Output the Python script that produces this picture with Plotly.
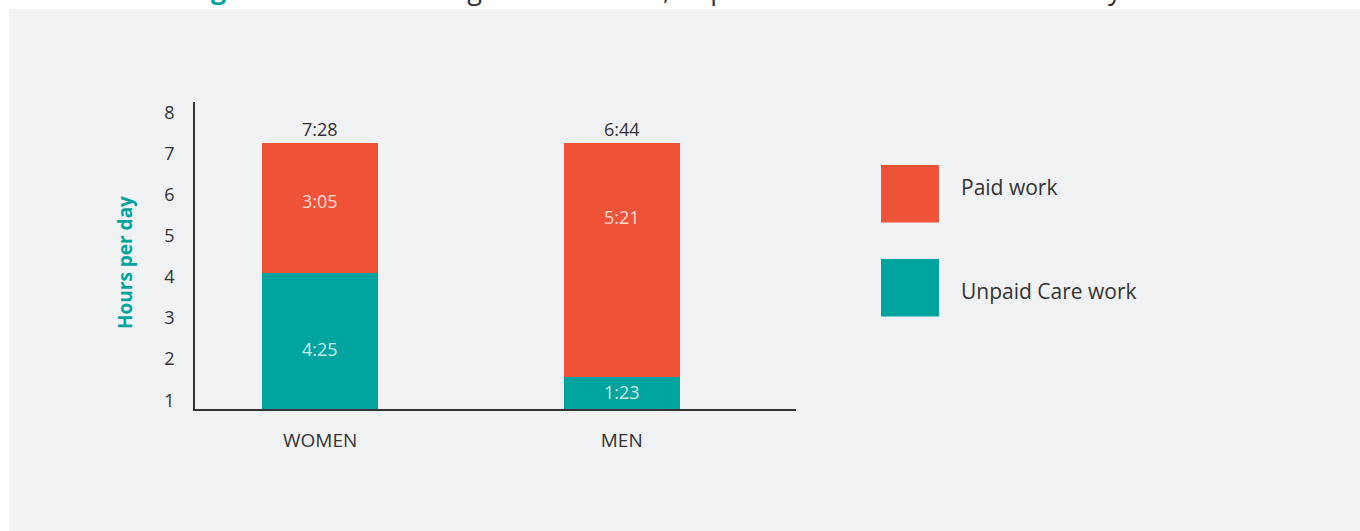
import plotly.graph_objects as go

# ---------------- data ----------------
groups = ["WOMEN", "MEN"]
series_names = ["Unpaid Care work", "Paid work"]
# bar heights
unpaid_care = [4.10, 1.57]
paid_work = [3.16, 5.69]
unpaid_labels = ["4:25", "1:23"]
paid_labels = ["3:05", "5:21"]
total_labels = ["7:28", "6:44"]
y_ticks = [1, 2, 3, 4, 5, 6, 7, 8]

# ---------------- style ----------------
RED = "#ee5338"
TEAL = "#00a49e"
DARK = "#333333"
PANEL = "#f1f2f4"
FONT = "Open Sans"

W, H = 1360, 531
PL, PR, PT, PB = 195, 796, 102, 409       # plot area in page pixels
Y_RANGE = [0.787, 0.787 + (PB - PT) / 41.07]
X_RANGE = [-0.415, 1.578]


def px(x):
    return (x - PL) / (PR - PL)


def py(y):
    return (PB - y) / (PB - PT)


fig = go.Figure()
fig.add_trace(go.Bar(x=groups, y=unpaid_care, name=series_names[0],
                     marker=dict(color=TEAL, line=dict(width=0)),
                     width=0.385, showlegend=False, hoverinfo="skip"))
fig.add_trace(go.Bar(x=groups, y=paid_work, name=series_names[1],
                     marker=dict(color=RED, line=dict(width=0)),
                     width=0.385, showlegend=False, hoverinfo="skip"))

annotations = []
# inside labels (positions in axis units)
unpaid_label_y = [2.24, 1.21]
paid_label_y = [5.84, 5.47]
LIGHT = "rgba(255,255,255,0.8)"
for i, g in enumerate(groups):
    annotations.append(dict(x=g, y=unpaid_label_y[i], xref="x", yref="y",
                            text=unpaid_labels[i], showarrow=False, yanchor="middle",
                            font=dict(family=FONT, size=18, color=LIGHT)))
    annotations.append(dict(x=g, y=paid_label_y[i], xref="x", yref="y",
                            text=paid_labels[i], showarrow=False, yanchor="middle",
                            font=dict(family=FONT, size=18, color=LIGHT)))
    annotations.append(dict(x=g, y=unpaid_care[i] + paid_work[i], xref="x", yref="y",
                            text=total_labels[i], showarrow=False, yanchor="bottom",
                            font=dict(family=FONT, size=18, color=DARK)))

# y-axis title
annotations.append(dict(x=px(125), y=py(263), xref="paper", yref="paper",
                        xanchor="center", yanchor="middle",
                        text="<b>Hours per day</b>", textangle=-90, showarrow=False,
                        font=dict(family=FONT, size=19, color=TEAL)))

# background panel + legend (manual)
shapes = [
    dict(type="rect", xref="paper", yref="paper", x0=px(9), x1=px(W + 5),
         y0=py(H + 5), y1=py(9), fillcolor=PANEL, line=dict(width=0), layer="below"),
    dict(type="rect", xref="paper", yref="paper", x0=px(881), x1=px(939),
         y0=py(222.5), y1=py(165), fillcolor=RED, line=dict(width=0)),
    dict(type="rect", xref="paper", yref="paper", x0=px(881), x1=px(939),
         y0=py(316.5), y1=py(259), fillcolor=TEAL, line=dict(width=0)),
]
annotations.append(dict(x=px(959), y=py(187), xref="paper", yref="paper",
                        text=series_names[1], showarrow=False,
                        xanchor="left", yanchor="middle",
                        font=dict(family=FONT, size=21, color=DARK)))
annotations.append(dict(x=px(959), y=py(291), xref="paper", yref="paper",
                        text=series_names[0], showarrow=False,
                        xanchor="left", yanchor="middle",
                        font=dict(family=FONT, size=21, color=DARK)))

# title, mostly above the visible page (cut off as in the reference)
annotations.append(dict(x=px(186), y=py(-32), xref="paper", yref="paper",
                        xanchor="left", yanchor="top", showarrow=False,
                        text="<b><span style='color:%s'>Figure 3:</span></b> Global average of total work, unpaid care work and total work by sex" % TEAL,
                        font=dict(family=FONT, size=27, color=DARK)))

fig.update_layout(
    width=W, height=H,
    margin=dict(l=PL, r=W - PR, t=PT, b=H - PB, pad=0),
    paper_bgcolor="white",
    plot_bgcolor="rgba(0,0,0,0)",
    barmode="stack",
    font=dict(family=FONT, size=18, color=DARK),
    shapes=shapes,
    annotations=annotations,
    xaxis=dict(range=X_RANGE, showgrid=False, zeroline=False, showline=True,
               linecolor=DARK, linewidth=1.5, ticks="outside", ticklen=13,
               tickcolor="rgba(0,0,0,0)", tickfont=dict(family=FONT, size=19, color=DARK),
               fixedrange=True),
    yaxis=dict(range=Y_RANGE, tickvals=y_ticks, showgrid=False, zeroline=False,
               showline=True, linecolor=DARK, linewidth=1.5, ticks="outside",
               ticklen=15, tickcolor="rgba(0,0,0,0)",
               tickfont=dict(family=FONT, size=18, color=DARK), fixedrange=True),
)

fig.write_html("out.html",
               config={"displayModeBar": False},
               post_script="document.body.style.margin='0';document.body.style.overflow='hidden';")
